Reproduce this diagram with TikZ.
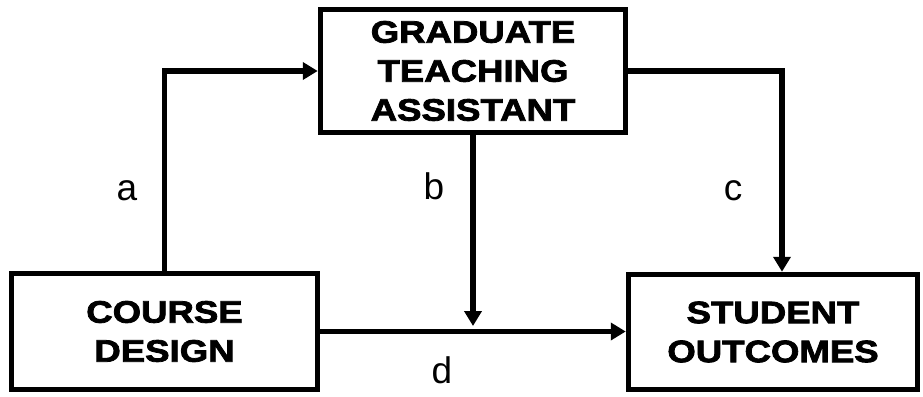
\documentclass[tikz,border=0pt]{standalone}
\usepackage{fontspec}
\setmainfont{Liberation Sans}
\newfontfamily\heavyfont{Liberation Sans Bold}[FakeStretch=1.18,FakeBold=2.5]
\usetikzlibrary{arrows.meta}

\begin{document}
\begin{tikzpicture}[x=1pt,y=-1pt,line width=5.5pt,>={Triangle[length=15pt,width=17pt]}]
				\tikzstyle{box}=[rectangle, draw, align=center, inner sep=0pt, font=\heavyfont\fontsize{31}{39}\selectfont]
				\tikzstyle{lbl}=[anchor=base, inner sep=0pt, font=\fontsize{37}{40}\selectfont]

				\useasboundingbox (0,0) rectangle (923,396);

				\node[box, minimum width=305pt, minimum height=123pt] (gta) at (473,71) {GRADUATE\\TEACHING\\ASSISTANT};
				\node[box, minimum width=306pt, minimum height=116pt] (course) at (164.5,331.5) {COURSE\\DESIGN};
				\node[box, minimum width=289pt, minimum height=115pt] (student) at (773,332) {STUDENT\\OUTCOMES};
				\coordinate (btip) at (473,326);
				\coordinate (cin) at (782,0);

				\draw [->] (course.north) |- (gta.west);
				\draw [->] (gta.east) -| (cin |- student.north);
				\draw [->] (gta.south) -- (btip);
				\draw [->] (course.east) -- (course.east -| student.west);

				\node[lbl] (a) at (127,200) {a};
				\node[lbl] (b) at (434,199) {b};
				\node[lbl] (c) at (733,200) {c};
				\node[lbl] (d) at (442,383) {d};
			\end{tikzpicture}
\end{document}
